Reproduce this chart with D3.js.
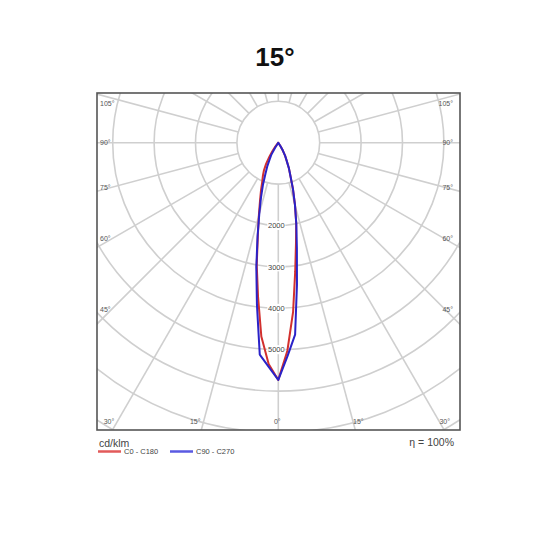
<!DOCTYPE html>
<html>
<head>
<meta charset="utf-8">
<script src="https://cdn.jsdelivr.net/npm/d3@7"></script>
<style>
  html, body { margin: 0; padding: 0; background: #fff; }
  svg { display: block; }
</style>
</head>
<body>
<svg id="chart" width="550" height="550"></svg>
<script>
// ---------- DATA ----------
const title = "15°";
const unitLabel = "cd/klm";
const efficiencyLabel = "η = 100%";
const gamma = [0, 2.5, 5, 7.5, 10, 12.5, 15, 17.5, 20, 22.5, 25, 27.5, 30, 32.5, 35, 37.5, 40];
// C0 - C180 plane (red): right half C0, left half C180
const c0   = [5730, 5030, 4100, 3130, 2460, 2000, 1560, 1180, 860, 670, 470, 360, 220, 100, 0, 0, 0];
const c180 = [5730, 5350, 4700, 3750, 3000, 2280, 1810, 1470, 1220, 1010, 880, 750, 590, 400, 250, 120, 0];
// C90 - C270 plane (blue): right half C90, left half C270
const c90  = [5730, 5155, 4655, 3455, 2585, 2010, 1556, 1183, 861, 672, 472, 359, 220, 100, 0, 0, 0];
const c270 = [5730, 5413, 5138, 3952, 3058, 2314, 1770, 1391, 1087, 811, 632, 444, 340, 150, 0, 0, 0];
const ringValues = [1000, 2000, 3000, 4000, 5000, 6000, 7000, 8000];
const ringLabels = [2000, 3000, 4000, 5000];
const sideTickAngles = [105, 90, 75, 60, 45];
const bottomTickAngles = [-30, -15, 0, 15, 30];
const legendNames = ["C0 - C180", "C90 - C270"];

// ---------- LAYOUT ----------
const svg = d3.select("#chart");
const box = {x0: 97, y0: 93, x1: 460, y1: 430};
const cx = 278.3, cy = 142.7;
const r = d3.scaleLinear().domain([0, 1000]).range([0, 41.4]);
const rad = d => d * Math.PI / 180;
// gamma measured from straight down; side +1 right, -1 left
const pt = (g, v, side) => [cx + side * r(v) * Math.sin(rad(g)), cy + r(v) * Math.cos(rad(g))];

const gridColor = "#cfcfcf";
const labelColor = "#555";
const font = "'Liberation Sans', Arial, sans-serif";

// title
svg.append("text").attr("x", 275).attr("y", 66)
  .attr("text-anchor", "middle").attr("font-family", font)
  .attr("font-weight", "bold").attr("font-size", 26).attr("fill", "#111").text(title);

svg.append("defs").append("clipPath").attr("id", "clip")
  .append("rect").attr("x", box.x0).attr("y", box.y0)
  .attr("width", box.x1 - box.x0).attr("height", box.y1 - box.y0);

const g = svg.append("g").attr("clip-path", "url(#clip)");

// rings
g.selectAll("circle.ring").data(ringValues).join("circle")
  .attr("class", "ring").attr("cx", cx).attr("cy", cy).attr("r", d => r(d))
  .attr("fill", "none").attr("stroke", gridColor).attr("stroke-width", 1.6);

// radial lines every 15 degrees, both sides
const radials = [];
for (let a = 0; a <= 180; a += 15) { radials.push([a, 1]); if (a > 0 && a < 180) radials.push([a, -1]); }
g.selectAll("line.rad").data(radials).join("line")
  .attr("class", "rad")
  .attr("x1", d => pt(d[0], 1000, d[1])[0]).attr("y1", d => pt(d[0], 1000, d[1])[1])
  .attr("x2", d => pt(d[0], 12000, d[1])[0]).attr("y2", d => pt(d[0], 12000, d[1])[1])
  .attr("stroke", gridColor).attr("stroke-width", 1.6);

// ring labels
const rl = g.selectAll("g.rl").data(ringLabels).join("g").attr("class", "rl")
  .attr("transform", d => `translate(${cx - 2},${cy + r(d)})`);
rl.append("rect").attr("x", -9).attr("y", -4.5).attr("width", 18).attr("height", 9).attr("fill", "#fff");
rl.append("text").attr("text-anchor", "middle").attr("dy", "0.35em")
  .attr("font-family", font).attr("font-size", 7.5).attr("fill", "#444").text(d => d);

// curves
const curve = (left, right) => {
  const pts = [];
  for (let i = gamma.length - 1; i >= 0; i--) pts.push(pt(gamma[i], left[i], -1));
  for (let i = 1; i < gamma.length; i++) pts.push(pt(gamma[i], right[i], 1));
  return pts;
};
const line = d3.line();
const red = "#d2302e", blue = "#2a22c8";
g.append("path").attr("d", line(curve(c180, c0)) + "Z")
  .attr("fill", "none").attr("stroke", red).attr("stroke-width", 2).attr("stroke-linejoin", "round");
g.append("path").attr("d", line(curve(c270, c90)) + "Z")
  .attr("fill", "none").attr("stroke", blue).attr("stroke-width", 2).attr("stroke-linejoin", "round");

// side angle labels
const labX = 111.5;
const sideY = a => Math.max(box.y0 + 11, cy + (cx - labX) / Math.tan(rad(a)));
svg.selectAll("text.sl").data(sideTickAngles).join("text")
  .attr("class", "sl").attr("x", box.x0 + 3).attr("y", d => sideY(d)).attr("dy", "0.35em")
  .attr("font-family", font).attr("font-size", 7).attr("fill", labelColor).text(d => d + "°");
svg.selectAll("text.sr").data(sideTickAngles).join("text")
  .attr("class", "sr").attr("x", box.x1 - 7).attr("y", d => sideY(d)).attr("dy", "0.35em")
  .attr("text-anchor", "end")
  .attr("font-family", font).attr("font-size", 7).attr("fill", labelColor).text(d => d + "°");

// bottom angle labels
const by = 421.7;
svg.selectAll("text.bl").data(bottomTickAngles).join("text")
  .attr("class", "bl")
  .attr("x", d => {
    const xi = cx + (by - cy) * Math.tan(rad(d));
    return d < 0 ? xi - 3 : d > 0 ? xi : xi - 1;
  })
  .attr("y", by).attr("dy", "0.35em")
  .attr("text-anchor", d => d < 0 ? "end" : d > 0 ? "start" : "middle")
  .attr("font-family", font).attr("font-size", 7).attr("fill", labelColor)
  .text(d => Math.abs(d) + "°");

// frame
svg.append("rect").attr("x", box.x0).attr("y", box.y0)
  .attr("width", box.x1 - box.x0).attr("height", box.y1 - box.y0)
  .attr("fill", "none").attr("stroke", "#555").attr("stroke-width", 1.6);

// unit & efficiency
svg.append("text").attr("x", 99).attr("y", 447).attr("font-family", font)
  .attr("font-size", 10.5).attr("fill", "#444").text(unitLabel);
svg.append("text").attr("x", 454).attr("y", 446).attr("text-anchor", "end").attr("font-family", font)
  .attr("font-size", 10.5).attr("fill", "#444").text(efficiencyLabel);

// legend
const legColors = ["#e25a5a", "#5a5ae2"];
const legX = [98, 170];
const lg = svg.selectAll("g.leg").data(legendNames).join("g").attr("class", "leg")
  .attr("transform", (d, i) => `translate(${legX[i]},451.5)`);
lg.append("line").attr("x1", 0).attr("x2", 23).attr("stroke", (d, i) => legColors[i]).attr("stroke-width", 2.5);
lg.append("text").attr("x", 26).attr("dy", "0.35em").attr("font-family", font)
  .attr("font-size", 7.5).attr("fill", "#444").text(d => d);
</script>
</body>
</html>
